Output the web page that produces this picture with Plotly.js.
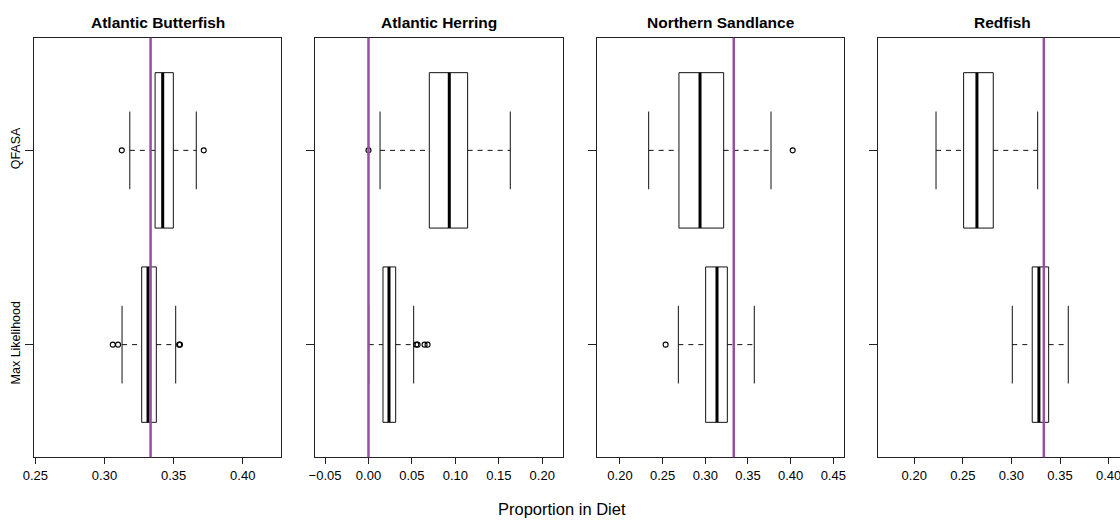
<!DOCTYPE html>
<html>
<head>
<meta charset="utf-8">
<script src="https://cdn.plot.ly/plotly-3.0.1.min.js"></script>
<style>
html, body { margin: 0; padding: 0; overflow: hidden; background: #fff; }
#chart { width: 1130px; height: 523px; }
</style>
</head>
<body>
<div id="chart"></div>
<script>
// ---- data ----
const panelTitles = ['Atlantic Butterfish', 'Atlantic Herring', 'Northern Sandlance', 'Redfish'];
const groupLabels = ['Max Likelihood', 'QFASA'];   // y positions 1, 2
const referenceValues = [1/3, 0, 1/3, 1/3];          // purple reference line per panel

// QFASA box statistics per panel
const qfasaLowWhisker  = [0.3183, 0.0133, 0.2336, 0.2224];
const qfasaQ1          = [0.3366, 0.0700, 0.2691, 0.2508];
const qfasaMedian      = [0.3421, 0.0930, 0.2938, 0.2645];
const qfasaQ3          = [0.3498, 0.1141, 0.3215, 0.2813];
const qfasaHighWhisker = [0.3664, 0.1632, 0.3770, 0.3270];
const qfasaOutliers    = [[0.3125, 0.3718], [0.0], [0.4024], []];

// Max Likelihood box statistics per panel
const mlLowWhisker  = [0.3127, 0.0003, 0.2684, 0.3009];
const mlQ1          = [0.3269, 0.0167, 0.3004, 0.3214];
const mlMedian      = [0.3315, 0.0236, 0.3137, 0.3283];
const mlQ3          = [0.3375, 0.0313, 0.3258, 0.3383];
const mlHighWhisker = [0.3515, 0.0520, 0.3574, 0.3585];
const mlOutliers    = [[0.3060, 0.3098, 0.3540, 0.3546], [0.0550, 0.0565, 0.0645, 0.0680], [0.2535], []];

const xRanges = [[0.249, 0.4279], [-0.0612, 0.2242], [0.1727, 0.4629], [0.1630, 0.4179]];

// ---- layout constants ----
const W = 1130, H = 523;
const panelPx = [[34, 281.3], [315.3, 563.3], [596.7, 844.3], [878.3, 1126]];
const yDomain = [(H - 457.3) / H, (H - 37.7) / H];
const BOXW = 0.8, STAPLE = 0.4;
const FONT = 'Liberation Sans, Arial, Helvetica, sans-serif';
const INK = '#111';

const traces = [];
const layout = {
  width: W, height: H,
  margin: {l: 0, r: 0, t: 0, b: 0},
  paper_bgcolor: '#fff', plot_bgcolor: '#fff',
  showlegend: false,
  font: {family: FONT, size: 12, color: '#000'},
  shapes: [], annotations: []
};

function addBox(p, g, lw, q1, med, q3, hw, outs) {
  const xa = 'x' + (p + 1), ya = 'y' + (p + 1);
  const lo = g - BOXW / 2, hi = g + BOXW / 2;
  const sl = g - STAPLE / 2, sh = g + STAPLE / 2;
  // whiskers (dashed)
  traces.push({type: 'scatter', mode: 'lines', xaxis: xa, yaxis: ya, hoverinfo: 'skip',
    x: [lw, q1, null, q3, hw], y: [g, g, null, g, g],
    line: {color: INK, width: 1, dash: '5px,5px'}});
  // staples
  traces.push({type: 'scatter', mode: 'lines', xaxis: xa, yaxis: ya, hoverinfo: 'skip',
    x: [lw, lw, null, hw, hw], y: [sl, sh, null, sl, sh],
    line: {color: INK, width: 1}});
  // box
  traces.push({type: 'scatter', mode: 'lines', xaxis: xa, yaxis: ya, hoverinfo: 'skip',
    x: [q1, q3, q3, q1, q1], y: [lo, lo, hi, hi, lo],
    line: {color: INK, width: 1}});
  // median
  traces.push({type: 'scatter', mode: 'lines', xaxis: xa, yaxis: ya, hoverinfo: 'skip',
    x: [med, med], y: [lo, hi],
    line: {color: '#000', width: 3}});
  // outliers
  if (outs.length) {
    traces.push({type: 'scatter', mode: 'markers', xaxis: xa, yaxis: ya, hoverinfo: 'skip',
      x: outs, y: outs.map(() => g),
      marker: {symbol: 'circle-open', size: 5, color: '#000', line: {width: 1.1}}});
  }
}

for (let p = 0; p < 4; p++) {
  const n = p + 1;
  const suffix = p === 0 ? '' : String(n);
  layout['xaxis' + suffix] = {
    domain: [panelPx[p][0] / W, panelPx[p][1] / W],
    anchor: 'y' + n,
    range: xRanges[p],
    dtick: 0.05, tick0: 0, tickformat: '.2f',
    showgrid: false, zeroline: false,
    showline: true, mirror: true, linecolor: '#222', linewidth: 1,
    ticks: 'outside', ticklen: 6, tickcolor: '#222', tickwidth: 1,
    tickfont: {family: FONT, size: 13, color: '#000'},
    fixedrange: true
  };
  layout['yaxis' + suffix] = {
    domain: yDomain,
    anchor: 'x' + n,
    range: [0.42, 2.58],
    tickvals: [1, 2], ticktext: groupLabels,
    showticklabels: p === 0, tickangle: -90,
    showgrid: false, zeroline: false,
    showline: true, mirror: true, linecolor: '#222', linewidth: 1,
    ticks: 'outside', ticklen: 8, tickcolor: '#222', tickwidth: 1,
    tickfont: {family: FONT, size: 12.5, color: '#000'},
    fixedrange: true
  };

  addBox(p, 2, qfasaLowWhisker[p], qfasaQ1[p], qfasaMedian[p], qfasaQ3[p], qfasaHighWhisker[p], qfasaOutliers[p]);
  addBox(p, 1, mlLowWhisker[p], mlQ1[p], mlMedian[p], mlQ3[p], mlHighWhisker[p], mlOutliers[p]);

  layout.shapes.push({type: 'line', layer: 'above', xref: 'x' + n, yref: 'y' + n + ' domain',
    x0: referenceValues[p], x1: referenceValues[p], y0: 0, y1: 1,
    line: {color: '#984ea3', width: 2.5}});

  layout.annotations.push({text: '<b>' + panelTitles[p] + '</b>', showarrow: false,
    xref: 'paper', yref: 'paper',
    x: (panelPx[p][0] + panelPx[p][1]) / 2 / W, y: (H - 22.7) / H,
    xanchor: 'center', yanchor: 'middle',
    font: {family: FONT, size: 15.5, color: '#000'}});
}

layout.annotations.push({text: 'Proportion in Diet', showarrow: false,
  xref: 'paper', yref: 'paper', x: 562 / W, y: (H - 509) / H,
  xanchor: 'center', yanchor: 'middle',
  font: {family: FONT, size: 16.5, color: '#000'}});

Plotly.newPlot('chart', traces, layout, {displayModeBar: false, staticPlot: true});
</script>
</body>
</html>
